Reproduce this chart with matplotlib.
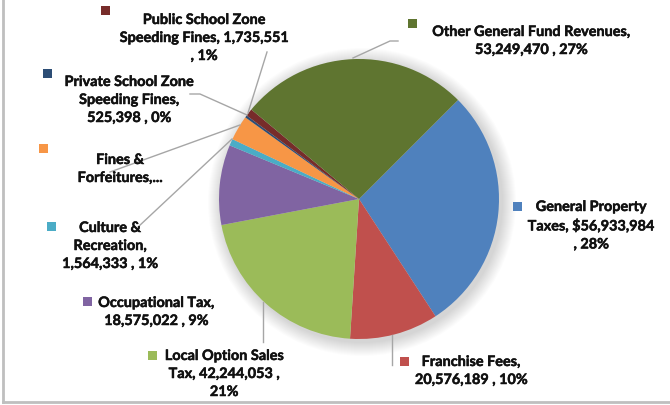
import matplotlib
matplotlib.use("Agg")
import matplotlib.pyplot as plt
import matplotlib.patheffects as pe
from matplotlib.patches import Rectangle, Circle

W, H = 670, 405

categories = ["General Property Taxes", "Franchise Fees", "Local Option Sales Tax",
              "Occupational Tax", "Culture & Recreation", "Fines & Forfeitures",
              "Private School Zone Speeding Fines", "Public School Zone Speeding Fines",
              "Other General Fund Revenues"]
values = [56933984, 20576189, 42244053, 18575022, 1564333, 5800000,
          525398, 1735551, 53249470]
colors = ["#4F81BD", "#C0504D", "#9BBB59", "#8064A2", "#4BACC6", "#F79646",
          "#2C4D75", "#772C2A", "#5F7530"]
labels = [
    "General Property\nTaxes, $56,933,984\n, 28%",
    "Franchise Fees,\n20,576,189 , 10%",
    "Local Option Sales\nTax, 42,244,053 ,\n21%",
    "Occupational Tax,\n18,575,022 , 9%",
    "Culture &\nRecreation,\n1,564,333 , 1%",
    "Fines &\nForfeitures,...",
    "Private School Zone\nSpeeding Fines,\n525,398 , 0%",
    "Public School Zone\nSpeeding Fines, 1,735,551\n, 1%",
    "Other General Fund Revenues,\n53,249,470 , 27%",
]

# layout (pixel coords, y from top; y = centre of first text line)
label_xy = [(591, 206), (471, 361), (224, 355), (156, 302), (110, 227),
            (120, 159), (129, 81), (204, 19), (531, 31)]
key_xy = [(517, 206), (404, 361), (152, 355), (87, 301), (51, 226),
          (43, 148), (47, 73), (105, 10), (412, 23)]
leaders = [
    None,
    [(392, 335), (392, 365)],
    [(263, 302), (263, 342)],
    None,
    [(138, 227), (232, 139)],
    [(110, 172), (240, 125)],
    [(190, 94), (200, 94), (247, 115)],
    [(267, 52), (248, 113)],
    [(353, 58), (390, 41), (398, 41)],
]

def Y(y):
    return H - y

fig = plt.figure(figsize=(W / 100, H / 100), dpi=100)
ax = fig.add_axes([0, 0, 1, 1])

cx, cy, r = 359, 199, 140

# soft shadow
for i in range(14, 0, -1):
    ax.add_patch(Circle((cx + 3, Y(cy + 3)), r + i, facecolor="#000000",
                        alpha=0.012, edgecolor="none", zorder=1))

ax.pie(values, colors=colors, center=(cx, Y(cy)), radius=r, startangle=45,
       counterclock=False, wedgeprops=dict(linewidth=0, zorder=2), frame=True)
ax.set_xlim(0, W)
ax.set_ylim(0, H)
ax.set_aspect("equal")
ax.axis("off")

for lab, (tx, ty) in zip(labels, label_xy):
    ax.text(tx, Y(ty - 5), lab, ha="center", va="top", fontsize=10.4,
            fontfamily="Lato", fontweight="bold", color="#111111",
            linespacing=1.6, zorder=5,
            path_effects=[pe.withStroke(linewidth=0.35, foreground="#111111")])
for c, (kx, ky) in zip(colors, key_xy):
    ax.add_patch(Rectangle((kx - 4.5, Y(ky) - 4.5), 9, 9, facecolor=c,
                           edgecolor="none", zorder=5))
for ld in leaders:
    if ld:
        ax.plot([p[0] for p in ld], [Y(p[1]) for p in ld], color="#A6A6A6",
                lw=1, zorder=4)

# frame on left and bottom
ax.plot([2.5, 2.5], [Y(0), Y(402)], color="#BFBFBF", lw=2, zorder=6)
ax.plot([2.5, W], [Y(402), Y(402)], color="#BFBFBF", lw=2, zorder=6)

fig.savefig("out.png", dpi=100)
